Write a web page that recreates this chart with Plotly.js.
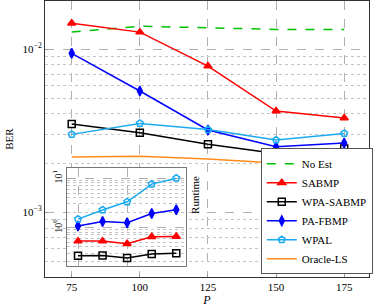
<!DOCTYPE html>
<html><head><meta charset="utf-8">
<script src="https://cdn.plot.ly/plotly-3.0.1.min.js"></script>
<style>html,body{margin:0;padding:0;background:#fff}#chart{width:374px;height:307px}</style>
</head><body><div id="chart"></div>
<script>
// Main plot data (BER vs P)
var P = [75, 100, 125, 150, 175];
var berNoEst   = [0.0127, 0.0138, 0.0135, 0.0132, 0.0132];
var berSABMP   = [0.0144, 0.0127, 0.00787, 0.00417, 0.00378];
var berWPASABMP= [0.00347, 0.00307, 0.00261, 0.00229, 0.00246];
var berPAFBMP  = [0.00941, 0.00553, 0.00319, 0.00252, 0.00266];
var berWPAL    = [0.00300, 0.00350, 0.00321, 0.00277, 0.00304];
var berOracle  = [0.00218, 0.00220, 0.00212, 0.00200, 0.00215];
// Inset data (runtime vs P)
var rtSABMP    = [0.525, 0.525, 0.466, 0.643, 0.652];
var rtWPASABMP = [0.263, 0.268, 0.237, 0.288, 0.298];
var rtPAFBMP   = [1.07, 1.32, 1.24, 1.91, 2.29];
var rtWPAL     = [1.47, 2.26, 3.31, 7.59, 10.0];
// Tick labels
var mainYTicks = [0.001, 0.01];
var mainYText = ['10<sup>−3</sup>', '10<sup>−2</sup>'];
var mainMinor = [4e-4,5e-4,6e-4,7e-4,8e-4,9e-4,2e-3,3e-3,4e-3,5e-3,6e-3,7e-3,8e-3,9e-3,2e-2];
var insetYTicks = [1, 10];
var insetYText = ['10<sup>0</sup>', '10<sup>1</sup>'];
var insetMinor = [0.2,0.3,0.4,0.5,0.6,0.7,0.8,0.9,2,3,4,5,6,7,8,9];

var RED='#ff0000', BLK='#000000', BLU='#0000ff', CYA='#1aaaf0', GRN='#00c000', ORG='#ff8c1a';
var FONT='Liberation Serif';

function tr(x,y,name,color,sym,opts){
  var t={x:x,y:y,name:name,type:'scatter',mode:sym?'lines+markers':'lines',
    line:{color:color,width:1.5},xaxis:'x',yaxis:'y'};
  if(sym){t.marker={symbol:sym,size:7,color:color,line:{color:color,width:1.5}};}
  if(opts){for(var k in opts){t[k]=opts[k];}}
  return t;
}
var data=[
  tr(P,berNoEst,'No Est',GRN,null,{line:{color:GRN,width:1.5,dash:'dash'}}),
  tr(P,berSABMP,'SABMP',RED,'triangle-up'),
  tr(P,berWPASABMP,'WPA-SABMP',BLK,'square-open'),
  tr(P,berPAFBMP,'PA-FBMP',BLU,'diamond-tall'),
  tr(P,berWPAL,'WPAL',CYA,'pentagon-open'),
  tr(P,berOracle,'Oracle-LS',ORG,null),
  tr(P,rtSABMP,'SABMP',RED,'triangle-up',{xaxis:'x2',yaxis:'y2',showlegend:false}),
  tr(P,rtWPASABMP,'WPA-SABMP',BLK,'square-open',{xaxis:'x2',yaxis:'y2',showlegend:false}),
  tr(P,rtPAFBMP,'PA-FBMP',BLU,'diamond-tall',{xaxis:'x2',yaxis:'y2',showlegend:false}),
  tr(P,rtWPAL,'WPAL',CYA,'pentagon-open',{xaxis:'x2',yaxis:'y2',showlegend:false})
];

var layout={
  width:374,height:307,
  margin:{l:45,r:2,t:1,b:30},
  paper_bgcolor:'#fff',plot_bgcolor:'#fff',
  font:{family:FONT,size:11,color:'#000'},
  showlegend:true,
  xaxis:{range:[65.2,184.1],tickvals:P,ticks:'inside',ticklen:3,tickcolor:'#999',
    showgrid:true,gridcolor:'#b0b0b0',griddash:'dash',gridwidth:1,
    showline:true,linecolor:'#333',linewidth:1,mirror:true,zeroline:false,
    title:{text:'<i>P</i>',standoff:4,font:{family:FONT,size:12}},tickfont:{family:FONT,size:11}},
  yaxis:{type:'log',range:[-3.397,-1.7055],tickvals:mainYTicks,ticktext:mainYText,
    ticks:'inside',ticklen:3,tickcolor:'#999',
    showgrid:true,gridcolor:'#b0b0b0',griddash:'dash',gridwidth:1,
    showline:true,linecolor:'#333',linewidth:1,mirror:true,zeroline:false,
    title:{text:'BER',standoff:6,font:{family:FONT,size:11}},tickfont:{family:FONT,size:11}},
  yaxis3:{type:'log',range:[-3.397,-1.7055],overlaying:'y',anchor:'x',tickvals:mainMinor,
    showticklabels:false,ticks:'',showgrid:true,gridcolor:'#c4c4c4',griddash:'dot',gridwidth:1,
    showline:false,zeroline:false},
  xaxis2:{domain:[0.0664,0.4364],anchor:'y2',range:[63.3,185.3],tickvals:[75,125],
    showticklabels:false,ticks:'',showgrid:true,gridcolor:'#b0b0b0',griddash:'dash',
    showline:true,linecolor:'#777',linewidth:1,mirror:true,zeroline:false},
  yaxis2:{domain:[0.0399,0.396],anchor:'x2',type:'log',range:[-0.786,1.214],
    tickvals:insetYTicks,ticktext:insetYText,tickangle:-90,ticks:'',
    showgrid:true,gridcolor:'#b0b0b0',griddash:'dash',
    showline:true,linecolor:'#777',linewidth:1,mirror:true,zeroline:false,
    tickfont:{family:FONT,size:10}},
  yaxis4:{type:'log',range:[-0.786,1.214],overlaying:'y2',anchor:'x2',tickvals:insetMinor,
    showticklabels:false,ticks:'',showgrid:true,gridcolor:'#c4c4c4',griddash:'dot',gridwidth:1,
    showline:false,zeroline:false},
  legend:{x:0.666,xanchor:'left',y:0.01,yanchor:'bottom',bgcolor:'#fff',
    bordercolor:'#555',borderwidth:1,font:{family:FONT,size:11},tracegroupgap:0,itemwidth:30},
  annotations:[{text:'Runtime',xref:'paper',yref:'paper',x:0.465,y:0.22,textangle:-90,
    showarrow:false,font:{family:FONT,size:11}}]
};
// invisible anchor traces so the overlay grid axes get drawn
data.push({x:[P[0]],y:[mainYTicks[0]],xaxis:'x',yaxis:'y3',mode:'markers',marker:{opacity:0},showlegend:false,hoverinfo:'skip'});
data.push({x:[P[0]],y:[insetYTicks[0]],xaxis:'x2',yaxis:'y4',mode:'markers',marker:{opacity:0},showlegend:false,hoverinfo:'skip'});
Plotly.newPlot('chart',data,layout,{displayModeBar:false,staticPlot:true});
</script></body></html>
